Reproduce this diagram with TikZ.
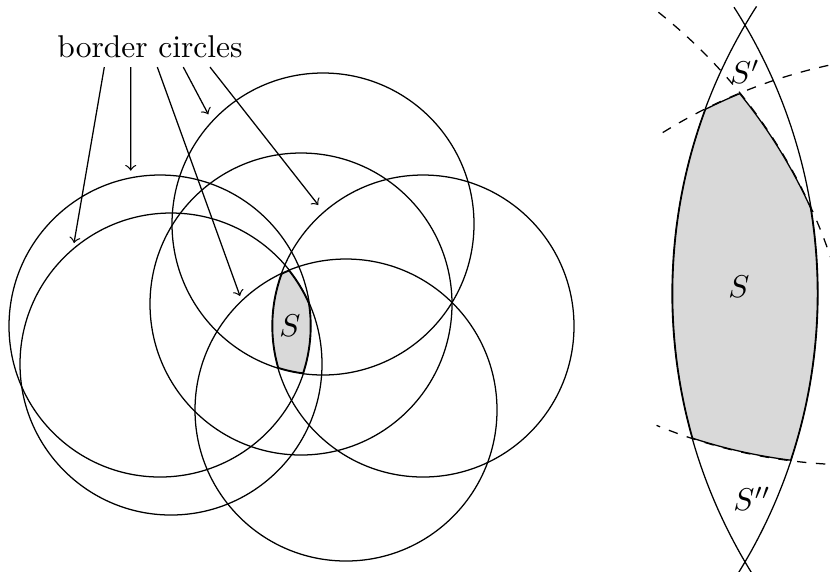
\documentclass[tikz,border=0pt]{standalone}
\begin{document}
\begin{tikzpicture}[x=0.3175pt,y=-0.3175pt,
  circ/.style={line width=0.4pt},
  dashcirc/.style={line width=0.4pt,dashed},
  bnd/.style={line width=0.8pt},
  shadefill/.style={fill=black!15},
  arr/.style={->,line width=0.4pt}]
\useasboundingbox (0,0) rectangle (830,571);

% ---------- left figure ----------
\coordinate (A) at (323,224);
\coordinate (B) at (301,304);
\coordinate (C) at (160,326);
\coordinate (D) at (171,364);
\coordinate (E) at (423,326);
\coordinate (F) at (346,410);

\begin{scope}
  \clip (A) circle[radius=151];
  \clip (B) circle[radius=151];
  \clip (C) circle[radius=151];
  \clip (D) circle[radius=151];
  \clip (E) circle[radius=151];
  \clip (F) circle[radius=151];
  \fill[shadefill] (C) circle[radius=151];
  \foreach \c in {A,C,D,E,F} \draw[bnd] (\c) circle[radius=151];
\end{scope}
\foreach \c in {A,B,C,D,E,F} \draw[circ] (\c) circle[radius=151];

\node (Sl) at (290,326) {$S$};

\node[anchor=base, inner sep=2.8pt] (bc) at (150,57.3) {border circles};
\coordinate (t1) at (74,243);
\coordinate (t2) at (130.7,170.7);
\coordinate (t3) at (240,296);
\coordinate (t4) at (208.3,114.3);
\coordinate (t5) at (318.3,205);
\draw[arr] ([xshift=-14.51pt]bc.south) -- (t1);
\draw[arr] ([xshift=-6.13pt]bc.south) -- (t2);
\draw[arr] ([xshift=2.32pt]bc.south) -- (t3);
\draw[arr] ([xshift=10.57pt]bc.south) -- (t4);
\draw[arr] ([xshift=19.05pt]bc.south) -- (t5);

% ---------- right figure (magnified) ----------
\coordinate (L) at (1202,293.5);
\coordinate (R) at (288,293.5);
\coordinate (Dp) at (328.5,427);
\coordinate (Fp) at (942,583);
\coordinate (Ap) at (857.6,-65);

\begin{scope}
  \clip (L) circle[radius=530];
  \clip (R) circle[radius=530];
  \clip (Dp) circle[radius=530];
  \clip (Fp) circle[radius=530];
  \clip (Ap) circle[radius=530];
  \fill[shadefill] (R) circle[radius=530];
  \foreach \c in {L,R,Dp,Fp,Ap} \draw[bnd] (\c) circle[radius=530];
\end{scope}

\draw[circ] plot[variable=\t, domain=147.2:212.8, samples=90, smooth] ({1202+530*cos(\t)},{293.5+530*sin(\t)});
\draw[circ] plot[variable=\t, domain=-32.7:32.7, samples=90, smooth] ({288+530*cos(\t)},{293.5+530*sin(\t)});
\draw[dashcirc] plot[variable=\t, domain=-51.5:-18.7, samples=60, smooth] ({328.5+530*cos(\t)},{427+530*sin(\t)});
\draw[dashcirc] plot[variable=\t, domain=-121.8:-102.2, samples=60, smooth] ({942+530*cos(\t)},{583+530*sin(\t)});
\draw[dashcirc] plot[variable=\t, domain=93.5:112.3, samples=60, smooth] ({857.6+530*cos(\t)},{-65+530*sin(\t)});

\node (Sr) at (739,287) {$S$};
\node (Sp) at (745,72) {$S'$};
\node (Spp) at (752,499) {$S''$};
\end{tikzpicture}
\end{document}
